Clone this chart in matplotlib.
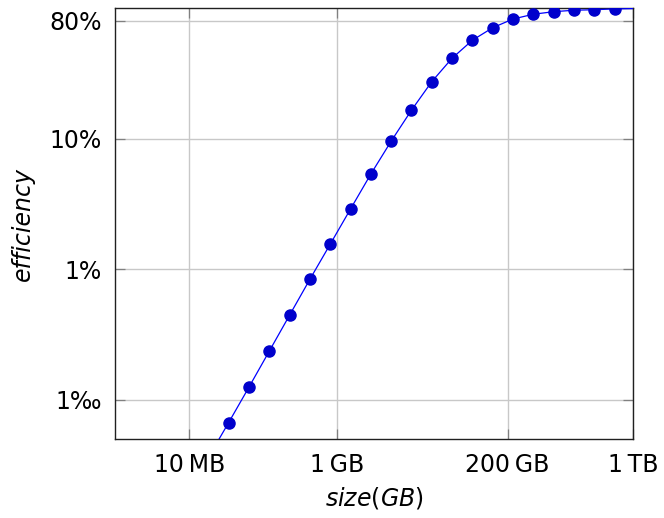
import matplotlib
matplotlib.use('Agg')
import matplotlib.pyplot as plt

# data (x in GB, y as a fraction)
size_gb = [0.018, 0.034, 0.064, 0.120, 0.226, 0.426, 0.801, 1.51, 2.84, 5.33,
           10.0, 18.9, 35.5, 66.8, 126, 237, 445, 838, 1580, 2970, 5580, 10500]
efficiency = [3.6e-4, 6.68e-4, 1.25e-3, 2.35e-3, 4.44e-3, 8.38e-3, 1.555e-2,
              2.90e-2, 5.37e-2, 9.57e-2, 0.165, 0.274, 0.414, 0.569, 0.710,
              0.828, 0.900, 0.942, 0.966, 0.975, 0.989, 0.995]

xtick_pos = [0.01, 1, 200, 10000]
xtick_labels = ['10\u2009MB', '1\u2009GB', '200\u2009GB', '1\u2009TB']
ytick_pos = [0.001, 0.01, 0.1, 0.8]
ytick_labels = ['1\u2030', '1%', '10%', '80%']

plt.rcParams['font.family'] = ['DejaVu Sans']
plt.rcParams['font.size'] = 17
plt.rcParams['mathtext.fontset'] = 'dejavusans'

fig = plt.figure(figsize=(6.64, 5.18), dpi=100)
ax = fig.add_axes([0.1737, 0.1525, 0.7801, 0.8315])

# first and last points sit outside the axes: keep the line, skip the markers
ax.plot(size_gb, efficiency, color='#0000ff', lw=0.9, marker='o',
        markevery=list(range(1, len(size_gb) - 1)),
        markersize=8, markerfacecolor='#0000cc', markeredgecolor='#0000cc',
        zorder=3)

ax.set_xscale('log')
ax.set_yscale('log')
ax.set_xlim(1e-3, 1e4)
ax.set_ylim(5e-4, 1.0)

ax.set_xticks(xtick_pos)
ax.set_xticklabels(xtick_labels)
ax.set_yticks(ytick_pos)
ax.set_yticklabels(ytick_labels)
ax.minorticks_off()

ax.grid(True, color='#c8c8c8', lw=1.0)
ax.set_axisbelow(True)
ax.tick_params(direction='in', length=7, width=0.9, color='#808080',
               top=True, right=True, pad=10)
for s in ax.spines.values():
    s.set_linewidth(1.0)
    s.set_color('#202020')

ax.set_xlabel(r'$\mathit{size}(\mathit{GB})$', labelpad=6)
ax.set_ylabel('efficiency', style='italic', labelpad=10)

fig.savefig('out.png', dpi=100)
